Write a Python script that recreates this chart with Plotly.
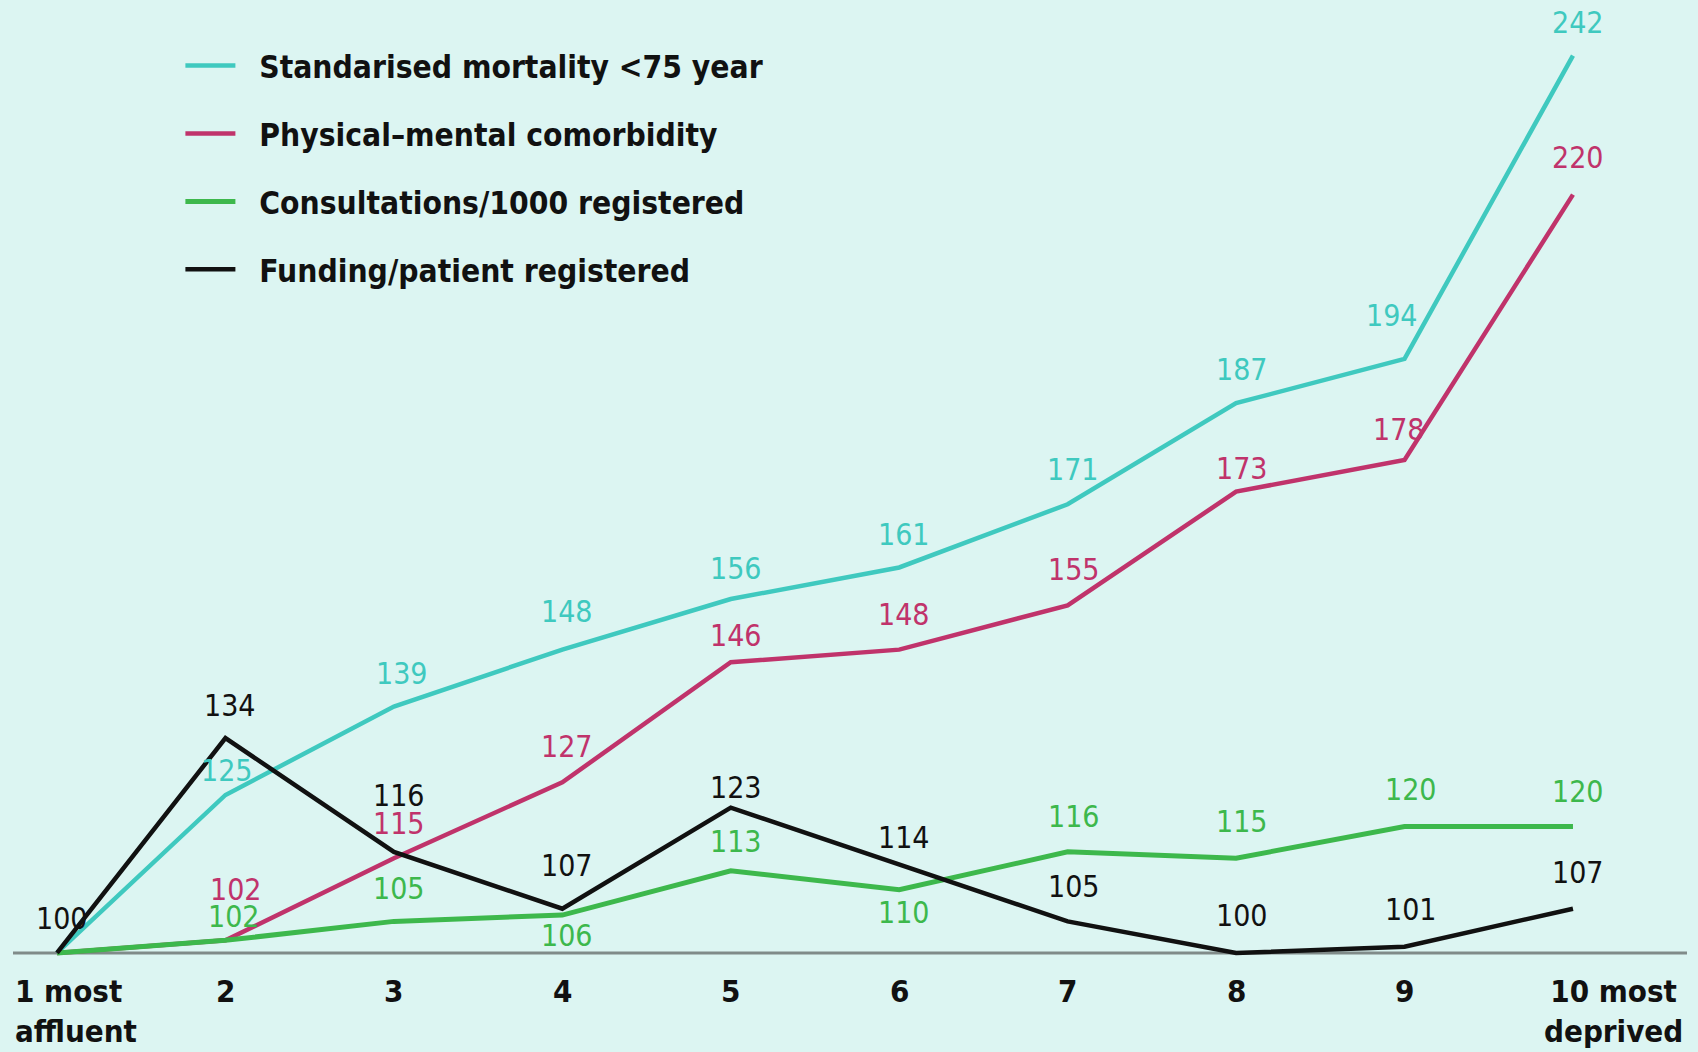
import plotly.graph_objects as go

# ---- data ----
deciles = [1, 2, 3, 4, 5, 6, 7, 8, 9, 10]
tick_labels = ["1 most<br>affluent", "2", "3", "4", "5", "6", "7", "8", "9", "10 most<br>deprived"]

series_names = [
    "Standarised mortality <75 year",
    "Physical\u2013mental comorbidity",
    "Consultations/1000 registered",
    "Funding/patient registered",
]
mortality = [100, 125, 139, 148, 156, 161, 171, 187, 194, 242]
comorbidity = [100, 102, 115, 127, 146, 148, 155, 173, 178, 220]
consultations = [100, 102, 105, 106, 113, 110, 116, 115, 120, 120]
funding = [100, 134, 116, 107, 123, 114, 105, 100, 101, 107]

# ---- styles ----
colors = ["#3fc9bf", "#c0336b", "#3db84c", "#111111"]
widths = [4.5, 4.5, 5, 4.5]
label_colors = ["#3fc9bf", "#c0336b", "#3db84c", "#111111"]
# label offsets (dx, dy in px); None = no label
label_offsets = [
    [None, (2, 24), (8, 33), (5, 38), (5, 31), (5, 33), (5, 35), (6, 34), (-13, 43), (5, 33)],
    [None, (11, 51), (5, 35), (5, 36), (5, 27), (5, 35), (6, 36), (6, 23), (-6, 31), (5, 37)],
    [None, (9, 24), (5, 33), (5, -20), (5, 29), (5, -23), (6, 35), (6, 37), (6, 37), (5, 35)],
    [(5, 34), (5, 33), (5, 56), (5, 43), (5, 20), (5, 27), (6, 35), (6, 37), (6, 37), (5, 36)],
]

BG = "#dcf5f2"
FONT = "DejaVu Sans Condensed, Liberation Sans Narrow, Roboto, sans-serif"
LEGEND_PAD = "\u2002\u2006"

fig = go.Figure()
all_series = [mortality, comorbidity, consultations, funding]
for i, (name, vals) in enumerate(zip(series_names, all_series)):
    fig.add_trace(go.Scatter(
        x=deciles, y=vals, mode="lines", name=LEGEND_PAD + name,
        line=dict(color=colors[i], width=widths[i]),
        legendgroup=f"g{i}",
        hoverinfo="skip",
    ))

annotations = []
for i, vals in enumerate(all_series):
    for j, v in enumerate(vals):
        off = label_offsets[i][j]
        if off is None:
            continue
        annotations.append(dict(
            x=deciles[j], y=v, xref="x", yref="y", text=str(v), showarrow=False,
            xshift=off[0], yshift=off[1],
            font=dict(family=FONT, size=30, color=label_colors[i]),
        ))

# x tick labels
for j, (d, t) in enumerate(zip(deciles, tick_labels)):
    if j == 0:
        xa, xs, al = "left", -44, "left"
    elif j == len(deciles) - 1:
        xa, xs, al = "right", 112, "center"
    else:
        xa, xs, al = "center", 0, "center"
    annotations.append(dict(
        x=d, y=100, xref="x", yref="y", text=t, showarrow=False,
        xanchor=xa, yanchor="top", xshift=xs, yshift=-18, align=al,
        font=dict(family=FONT, size=31, color="#111111", weight="bold"),
    ))

fig.update_layout(
    width=1698, height=1052,
    paper_bgcolor=BG, plot_bgcolor=BG,
    margin=dict(l=13, r=11, t=0, b=52),
    showlegend=True,
    legend=dict(
        x=0.100, y=0.9615, xanchor="left", yanchor="top",
        bgcolor="rgba(0,0,0,0)",
        font=dict(family=FONT, size=31.5, color="#111111", weight="bold"),
        tracegroupgap=24,
        itemwidth=50,
    ),
    xaxis=dict(range=[0.7387, 10.677], showgrid=False, zeroline=False,
               showticklabels=False, showline=False, ticks=""),
    yaxis=dict(range=[92.56, 250.79], showgrid=False, zeroline=False,
               showticklabels=False, showline=False, ticks=""),
    annotations=annotations,
    shapes=[dict(type="line", xref="paper", yref="y", x0=0, x1=1, y0=100, y1=100,
                 line=dict(color="#808b89", width=3), layer="below")],
)

fig.write_html(
    "out.html",
    config={"displayModeBar": False},
    post_script="document.body.style.margin='0';document.body.style.background='%s';"
                "document.body.style.overflow='hidden';" % BG,
)
